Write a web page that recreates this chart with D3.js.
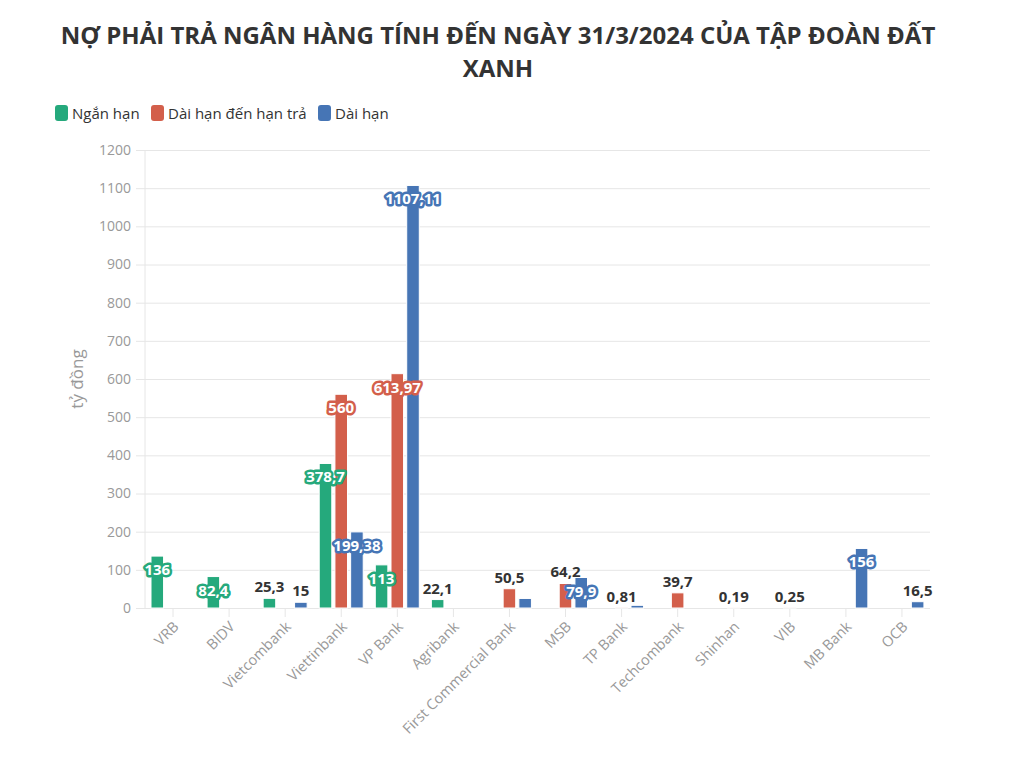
<!DOCTYPE html>
<html>
<head>
<meta charset="utf-8">
<script src="https://cdn.jsdelivr.net/npm/d3@7"></script>
<style>
  body { margin: 0; background: #fff; font-family: "Open Sans", sans-serif; }
</style>
</head>
<body>
<script>
// Chart data
var banks = ["VRB", "BIDV", "Vietcombank", "Viettinbank", "VP Bank", "Agribank", "First Commercial Bank",
             "MSB", "TP Bank", "Techcombank", "Shinhan", "VIB", "MB Bank", "OCB"];
var seriesNames = ["Ngắn hạn", "Dài hạn đến hạn trả", "Dài hạn"];
var nganHan    = [136, 82.4, 25.3, 378.7, 113, 22.1, null, null, null, null, null, null, null, null];
var daiHanDen  = [null, null, null, 560, 613.97, null, 50.5, 64.2, 0.81, 39.7, 0.19, 0.25, null, null];
var daiHan     = [null, null, 15, 199.38, 1107.11, null, 25, 79.9, 7, null, null, null, 156, 16.5];
var yTicks = [0, 100, 200, 300, 400, 500, 600, 700, 800, 900, 1000, 1100, 1200];
var colors = ["#25a97c", "#d35f4b", "#4675b5"];

var allSeries = [nganHan, daiHanDen, daiHan];

var W = 1018, H = 762;
var svg = d3.select("body").append("svg")
    .attr("width", W)
    .attr("height", H);

// Title
var title = svg.append("text")
    .attr("text-anchor", "middle")
    .style("font-size", "24px")
    .style("font-weight", "bold")
    .style("fill", "#333");
title.append("tspan").attr("x", 498).attr("y", 44)
    .text("NỢ PHẢI TRẢ NGÂN HÀNG TÍNH ĐẾN NGÀY 31/3/2024 CỦA TẬP ĐOÀN ĐẤT");
title.append("tspan").attr("x", 498).attr("y", 77).text("XANH");

// Legend
var legendX = [55, 151, 318];
var legend = svg.selectAll("g.legend")
    .data(seriesNames)
    .enter().append("g")
    .attr("class", "legend")
    .attr("transform", function(d, i) { return "translate(" + legendX[i] + ",105)"; });
legend.append("rect")
    .attr("width", 13).attr("height", 16).attr("rx", 3)
    .attr("fill", function(d, i) { return colors[i]; });
legend.append("text")
    .attr("x", 17).attr("y", 13.5)
    .style("font-size", "15px")
    .style("fill", "#333")
    .text(function(d) { return d; });

// Scales
var plotL = 145, plotR = 930, plotT = 150, plotB = 608;
var x0 = d3.scaleBand().domain(banks).range([plotL, plotR]);
var x1 = d3.scaleBand().domain(d3.range(3)).range([6, 50]).paddingInner(0.2);
var y = d3.scaleLinear().domain([0, 1200]).range([plotB, plotT]);

// Gridlines + y axis
var yAxis = svg.append("g")
    .attr("transform", "translate(" + plotL + ",0)")
    .call(d3.axisLeft(y).tickValues(yTicks).tickFormat(d3.format("d")).tickSize(-(plotR - plotL)).tickPadding(14));
yAxis.select(".domain").remove();
yAxis.selectAll(".tick line").attr("stroke", "#e6e6e6").attr("x1", -9);
yAxis.selectAll(".tick text")
    .style("font-size", "14px")
    .style("font-family", "Open Sans, sans-serif")
    .style("fill", "#999");

svg.append("line")
    .attr("x1", plotL).attr("x2", plotL)
    .attr("y1", plotT).attr("y2", plotB)
    .attr("stroke", "#e6e6e6");

svg.append("text")
    .attr("transform", "translate(83," + ((plotT + plotB) / 2) + ") rotate(-90)")
    .attr("text-anchor", "middle")
    .style("font-size", "17px")
    .style("fill", "#999")
    .text("tỷ đồng");

// X axis
var xAxis = svg.append("g")
    .attr("transform", "translate(0," + plotB + ")")
    .call(d3.axisBottom(x0).tickSize(9).tickPadding(6));
xAxis.select(".domain").attr("stroke", "#e6e6e6").attr("d", "M" + plotL + ",0.5H" + plotR);
xAxis.selectAll(".tick line").attr("stroke", "#e6e6e6");
xAxis.selectAll(".tick text")
    .style("font-size", "14.5px")
    .style("font-family", "Open Sans, sans-serif")
    .style("fill", "#999")
    .attr("text-anchor", "end")
    .attr("x", 0).attr("y", 0).attr("dy", "0.35em")
    .attr("transform", "translate(3,16) rotate(-45)");

// Bars
var points = [];
allSeries.forEach(function(vals, s) {
  vals.forEach(function(v, i) {
    if (v !== null) points.push({ s: s, bank: banks[i], v: v });
  });
});

svg.append("g").selectAll("rect")
    .data(points)
    .enter().append("rect")
    .attr("x", function(d) { return x0(d.bank) + x1(d.s); })
    .attr("y", function(d) { return y(d.v); })
    .attr("width", x1.bandwidth())
    .attr("height", function(d) { return plotB - y(d.v); })
    .attr("fill", function(d) { return colors[d.s]; })
    .attr("stroke", "#fff")
    .attr("stroke-width", 1);

// Data labels
function fmt(v) { return String(v).replace(".", ","); }
var labels = svg.append("g").selectAll("text")
    .data(points)
    .enter().append("text")
    .attr("x", function(d) { return x0(d.bank) + x1(d.s) + x1.bandwidth() / 2; })
    .attr("y", function(d) { return d.v >= 70 ? y(d.v) + 19 : y(d.v) - 6; })
    .attr("text-anchor", "middle")
    .style("font-size", "15px")
    .style("font-weight", "bold")
    .style("paint-order", "stroke")
    .style("stroke-linejoin", "round")
    .style("fill", function(d) { return d.v >= 70 ? "#fff" : "#333"; })
    .style("stroke", function(d) { return d.v >= 70 ? colors[d.s] : "none"; })
    .style("stroke-width", 5)
    .text(function(d) { return fmt(d.v); });

// hide labels that overlap an earlier one
var kept = [];
labels.each(function() {
  var b = this.getBBox();
  var hit = kept.some(function(k) {
    return b.x < k.x + k.width + 2 && k.x < b.x + b.width + 2 &&
           b.y + 3 < k.y + k.height && k.y + 3 < b.y + b.height;
  });
  if (hit) d3.select(this).remove();
  else kept.push(b);
});
</script>
</body>
</html>
